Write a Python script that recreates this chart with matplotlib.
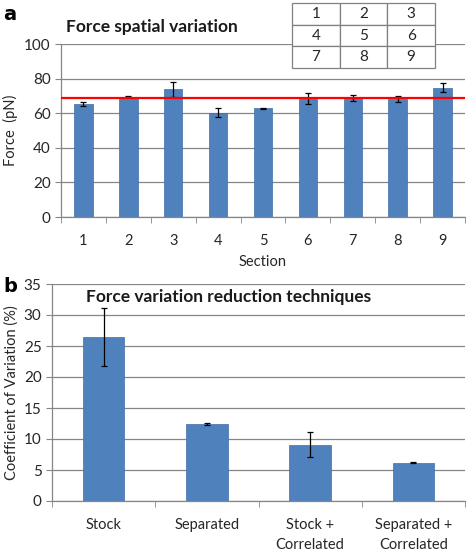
import matplotlib
matplotlib.use("Agg")
import matplotlib.pyplot as plt
import numpy as np

plt.rcParams["font.family"] = ["Lato", "DejaVu Sans"]

# panel a data
sections = ["1", "2", "3", "4", "5", "6", "7", "8", "9"]
force = [65.2, 69.6, 73.8, 60.2, 62.8, 68.6, 68.8, 68.4, 74.8]
force_err = [1.2, 0.4, 4.5, 2.6, 0.2, 3.2, 2.0, 1.8, 2.7]
force_mean = 68.7

# panel b data
techniques = ["Stock", "Separated", "Stock +\nCorrelated", "Separated +\nCorrelated"]
cov = [26.5, 12.4, 9.1, 6.2]
cov_err = [4.7, 0.2, 2.0, 0.15]

grid_cells = [["1", "2", "3"], ["4", "5", "6"], ["7", "8", "9"]]

BAR = "#4F81BD"
GRID = "#868686"
TXT = "#262626"

W, H = 472, 552
fig = plt.figure(figsize=(W / 100, H / 100), dpi=100)


def px_axes(left, top, right, bottom):
    return fig.add_axes([left / W, 1 - bottom / H, (right - left) / W, (bottom - top) / H])


def excel_style(ax, n, ymax, step):
    ax.set_xlim(-0.5, n - 0.5)
    ax.set_ylim(0, ymax)
    ax.set_yticks(np.arange(0, ymax + 0.1, step))
    ax.yaxis.grid(True, color=GRID, lw=0.9)
    ax.set_axisbelow(True)
    for s in ["top", "right"]:
        ax.spines[s].set_visible(False)
    for s in ["left", "bottom"]:
        ax.spines[s].set_color(GRID)
        ax.spines[s].set_linewidth(0.9)
    ax.set_xticks(np.arange(n))
    ax.set_xticks(np.arange(n + 1) - 0.5, minor=True)
    ax.tick_params(axis="x", which="major", length=0, pad=12, labelsize=10.5, colors=TXT)
    ax.tick_params(axis="x", which="minor", length=4, color=GRID, direction="out")
    ax.tick_params(axis="y", length=4, color=GRID, labelsize=11, colors=TXT, direction="out")


# ---- panel a
ax1 = px_axes(61, 44, 465, 217)
x1 = np.arange(len(sections))
ax1.bar(x1, force, width=0.41, color=BAR, edgecolor="#3F6FA8", lw=0.5, zorder=2)
ax1.errorbar(x1, force, yerr=force_err, fmt="none", ecolor="black", elinewidth=0.9,
             capsize=2.5, capthick=0.9, zorder=3)
ax1.axhline(force_mean, color="#FF0000", lw=1.6, zorder=4)
excel_style(ax1, len(sections), 100, 20)
ax1.set_xticklabels(sections)
ax1.set_ylabel("Force  (pN)", fontsize=10.5, color=TXT, labelpad=4)
ax1.set_xlabel("Section", fontsize=10.5, color=TXT, labelpad=5)
fig.text(66 / W, 1 - 27 / H, "Force spatial variation", fontsize=12.5, fontweight="bold",
         color="#1a1a1a", va="center")
fig.text(3 / W, 1 - 14 / H, "a", fontsize=14, fontweight="bold", family="DejaVu Sans",
         va="center")

# section layout table
tax = px_axes(292, 3, 435, 68)
tax.axis("off")
tbl = tax.table(cellText=grid_cells, cellLoc="center", bbox=[0, 0, 1, 1])
tbl.auto_set_font_size(False)
for cell in tbl.get_celld().values():
    cell.set_edgecolor("#808080")
    cell.set_linewidth(0.9)
    cell.set_facecolor("white")
    cell.get_text().set_fontsize(11)
    cell.get_text().set_color(TXT)

# ---- panel b
ax2 = px_axes(52, 284, 465, 501)
x2 = np.arange(len(techniques))
ax2.bar(x2, cov, width=0.4, color=BAR, edgecolor="#3F6FA8", lw=0.5, zorder=2)
ax2.errorbar(x2, cov, yerr=cov_err, fmt="none", ecolor="black", elinewidth=0.9,
             capsize=2.5, capthick=0.9, zorder=3)
excel_style(ax2, len(techniques), 35, 5)
ax2.set_xticklabels(techniques, linespacing=1.6)
ax2.set_ylabel("Coefficient of Variation (%)", fontsize=10.5, color=TXT, labelpad=4)
fig.text(86 / W, 1 - 297 / H, "Force variation reduction techniques", fontsize=12.5,
         fontweight="bold", color="#1a1a1a", va="center")
fig.text(3 / W, 1 - 286 / H, "b", fontsize=14, fontweight="bold", family="DejaVu Sans",
         va="center")

fig.savefig("out.png", dpi=100, facecolor="white")
